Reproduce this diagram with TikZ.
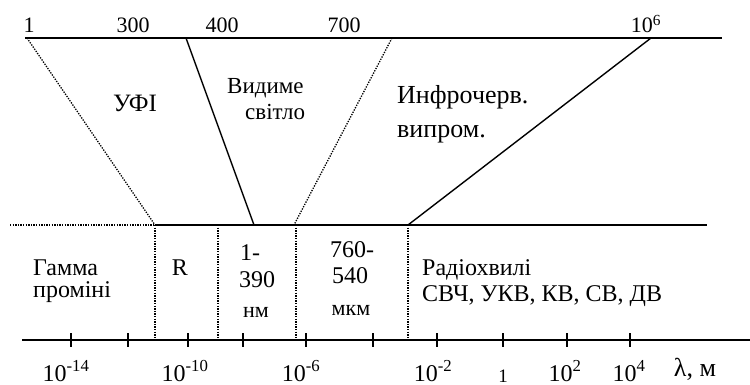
\documentclass[tikz,border=0pt]{standalone}
\usepackage{fontspec}
\setmainfont{Liberation Serif}
\newcommand{\fs}[1]{\fontsize{#1}{#1}\selectfont}
\begin{document}
\begin{tikzpicture}[x=1pt,y=-1pt,
  thick line/.style={line width=1.8pt},
  thin solid/.style={line width=1.4pt},
  dotline/.style={line width=1.3pt,dash pattern=on 1.3pt off 1.3pt},
  lbl/.style={inner sep=0pt,anchor=base,font=\fs{24}},
  lbll/.style={inner sep=0pt,anchor=base west,font=\fs{24}},
  topn/.style={inner sep=0pt,anchor=base,font=\fs{22}},
  tick/.style={line width=1.3pt}]
\useasboundingbox (0,0) rectangle (750,385);
% coordinates
\coordinate (tL) at (25,38);
\coordinate (tR) at (722,38);
\coordinate (t1) at (27,38);
\coordinate (t400) at (186,38);
\coordinate (t700) at (392,38);
\coordinate (t6) at (651,38);
\coordinate (mL) at (10,225);
\coordinate (m1) at (155,225);
\coordinate (m2) at (254,225);
\coordinate (m3) at (294,225);
\coordinate (m4) at (408,225);
\coordinate (mR) at (707,225);
\coordinate (aL) at (22,340);
\coordinate (aR) at (750,340);
% top line
\draw[thick line] (tL) -- (tR);
% middle line
\draw[dotline] (mL) -- (m1);
\draw[thick line] (m1) -- (mR);
% slanted
\draw[dotline] (t1) -- (m1);
\draw[thin solid] (t400) -- (m2);
\draw[dotline] (t700) -- (m3);
\draw[thin solid] (t6) -- (m4);
% vertical dotted
\coordinate (v2t) at (218,225);
\coordinate (v3t) at (296,225);
\draw[dotline] (m1) -- (155,337);
\draw[dotline] (v2t) -- (218,337);
\draw[dotline] (v3t) -- (296,337);
\draw[dotline] (m4) -- (408,337);
% axis
\draw[thick line] (aL) -- (aR);
\foreach \x in {71,128,188,243,306,373,437,503,567,630}
  \draw[tick] (\x,333) -- (\x,347);
% top labels
\node[topn] (n1) at (29,33) {1};
\node[topn] (n300) at (133,33) {300};
\node[topn] (n400) at (222,33) {400};
\node[topn] (n700) at (344,33) {700};
\node[topn] (n6) at (646,33) {10\textsuperscript{6}};
% region labels
\node[lbl,font=\fs{25}] (uf) at (135,112) {УФІ};
\node[lbll,font=\fs{23}] (vid1) at (227,94) {Видиме};
\node[lbll,font=\fs{23}] (vid2) at (245,120) {світло};
\node[lbll,font=\fs{26}] (ir1) at (397,104) {Инфрочерв.};
\node[lbll,font=\fs{26}] (ir2) at (397,138) {випром.};
\node[lbll] (g1) at (33,275) {Гамма};
\node[lbll] (g2) at (33,297) {проміні};
\node[lbl] (r) at (180,275) {R};
\node[lbl] (a1) at (250,260) {1-};
\node[lbl] (a2) at (257,287) {390};
\node[lbl,font=\fs{22}] (a3) at (256,317) {нм};
\node[lbl] (b1) at (352,257) {760-};
\node[lbl] (b2) at (350,283) {540};
\node[lbl,font=\fs{22}] (b3) at (351,315) {мкм};
\node[lbll] (rad1) at (422,275) {Радіохвилі};
\node[lbll] (rad2) at (422,301) {СВЧ, УКВ, КВ, СВ, ДВ};
% bottom labels
\node[lbl] (x14) at (66,381) {10\textsuperscript{-14}};
\node[lbl] (x10) at (185,381) {10\textsuperscript{-10}};
\node[lbl] (x6) at (301,381) {10\textsuperscript{-6}};
\node[lbl] (x2) at (433,381) {10\textsuperscript{-2}};
\node[lbl,font=\fs{19}] (x0) at (503,382) {1};
\node[lbl] (xp2) at (565,381) {10\textsuperscript{2}};
\node[lbl] (xp4) at (629,381) {10\textsuperscript{4}};
\node[lbl,font=\fs{26}] (lam) at (695,376) {λ, м};
\end{tikzpicture}
\end{document}
